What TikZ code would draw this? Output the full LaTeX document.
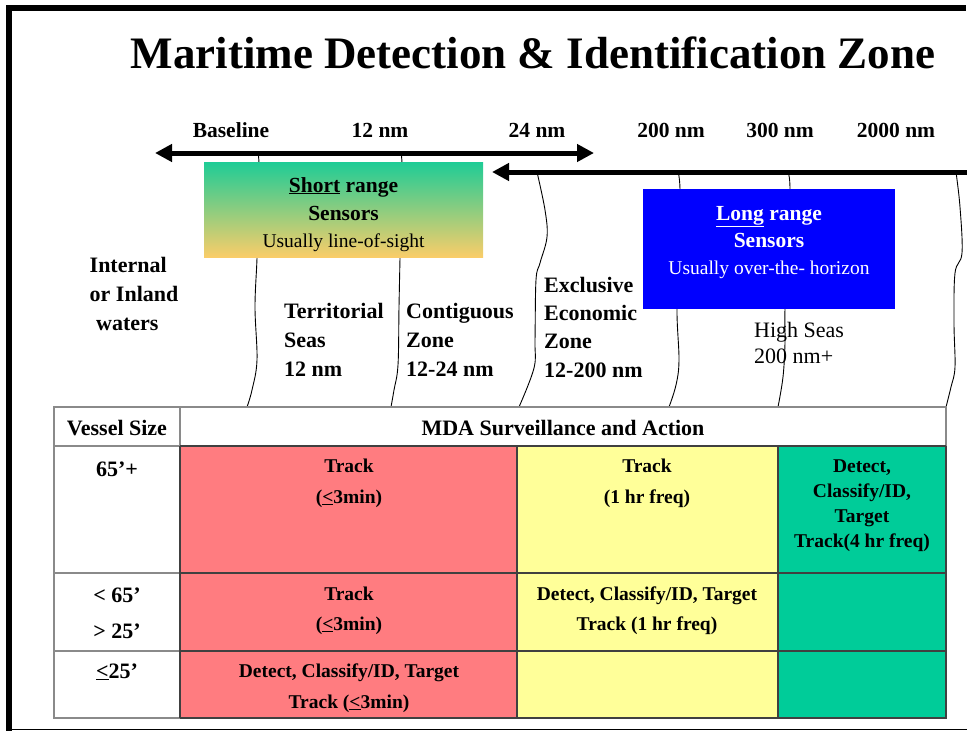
\documentclass[tikz,border=0pt]{standalone}
\usepackage{fontspec}
\setmainfont{Liberation Serif}
\usetikzlibrary{arrows.meta}

\definecolor{redcell}{HTML}{FF7C80}
\definecolor{yelcell}{HTML}{FFFF99}
\definecolor{grncell}{HTML}{00CC99}
\definecolor{shorttop}{HTML}{1ECC96}
\definecolor{shortbot}{HTML}{FACD69}
\definecolor{longbox}{HTML}{0000FF}
\definecolor{gridgrey}{HTML}{8A8A8A}
\definecolor{griddark}{HTML}{404040}

\begin{document}
\begin{tikzpicture}[x=1pt,y=-1pt,
  txt/.style={anchor=base,inner sep=0pt},
  titlefont/.style={txt,font=\fontsize{45}{50}\selectfont\bfseries},
  scalelbl/.style={txt,font=\fontsize{21.5}{25}\selectfont\bfseries},
  zonelbl/.style={txt,anchor=base west,font=\fontsize{22}{26}\selectfont\bfseries},
  zonereg/.style={txt,anchor=base west,font=\fontsize{22}{26}\selectfont},
  boxbold/.style={txt,font=\fontsize{21.5}{25}\selectfont\bfseries},
  boxreg/.style={txt,font=\fontsize{19.5}{23}\selectfont},
  headlbl/.style={txt,font=\fontsize{22}{26}\selectfont\bfseries},
  celltxt/.style={txt,font=\fontsize{19.5}{23}\selectfont\bfseries},
  rangearrow/.style={line width=5pt,-{Triangle[length=17pt,width=17pt]}},
  boundary/.style={line width=0.9pt,black},
]
\useasboundingbox (0,0) rectangle (967,731);

% page frame
\fill[black] (6,5) rectangle (966,11);
\fill[black] (6,5) rectangle (12,731);
\draw[line width=1.2pt] (12,729.5) -- (967,729.5);

% title
\node[titlefont] (title) at (533,68) {Maritime Detection \& Identification Zone};

% distance scale labels
\node[scalelbl] (sBase) at (231,137) {Baseline};
\node[scalelbl] (s12)   at (380,137) {12 nm};
\node[scalelbl] (s24)   at (537,137) {24 nm};
\node[scalelbl] (s200)  at (671,137) {200 nm};
\node[scalelbl] (s300)  at (780,137) {300 nm};
\node[scalelbl] (s2000) at (896,137) {2000 nm};

% zone boundaries (irregular lines)
\draw[boundary] plot[smooth,tension=0.6] coordinates
  {(258,153) (259,166) (258,210) (257,258) (255,307) (257,360) (252,390) (247,407)};
\draw[boundary] plot[smooth,tension=0.6] coordinates
  {(401,153) (402,166) (401,210) (400,258) (399,307) (398,365) (394,390) (391,407)};
\draw[boundary] plot[smooth,tension=0.6] coordinates
  {(537,172) (545,210) (547,237) (540,263) (536,280) (535,340) (534,368) (519,407)};
\draw[boundary] plot[smooth,tension=0.6] coordinates
  {(678,172) (680,189) (680,250) (677,309) (679,360) (676,385) (669,407)};
\draw[boundary] plot[smooth,tension=0.6] coordinates
  {(788,172) (790,189) (788,250) (785,309) (785,343) (783,377) (778,407)};
\draw[boundary] plot[smooth,tension=0.6] coordinates
  {(956,172) (960,207) (962,253) (955,273) (954,323) (955,367) (951,387) (946,407)};

% range arrows
\coordinate (shortL) at (155,153);
\coordinate (shortR) at (594,153);
\coordinate (longL) at (492,172);
\coordinate (longR) at (967,172);
\draw[line width=5pt,{Triangle[length=17pt,width=17pt]}-{Triangle[length=17pt,width=17pt]}] (shortL) -- (shortR);
\draw[rangearrow] (longR) -- (longL);

% short range sensors box
\shade[top color=shorttop,bottom color=shortbot] (204,162) rectangle (483,257);
\node[boxbold] (shortA) at (343.5,192) {\underline{Short} range};
\node[boxbold] (shortB) at (343.5,220) {Sensors};
\node[boxreg]  (shortC) at (343.5,247) {Usually line-of-sight};

% long range sensors box
\fill[longbox] (643,189) rectangle (895,309);
\node[boxbold,text=white] (longA) at (769,220) {\underline{Long} range};
\node[boxbold,text=white] (longB) at (769,247) {Sensors};
\node[boxreg,text=white]  (longC) at (769,274) {Usually over-the- horizon};

% zone names
\node[zonelbl] (inA) at (89.5,272) {Internal};
\node[zonelbl] (inB) at (89.5,301) {or Inland};
\node[zonelbl] (inC) at (96,330) {waters};

\node[zonelbl] (tsA) at (284,318) {Territorial};
\node[zonelbl] (tsB) at (284,347) {Seas};
\node[zonelbl] (tsC) at (284,376) {12 nm};

\node[zonelbl] (czA) at (406,318) {Contiguous};
\node[zonelbl] (czB) at (406,347) {Zone};
\node[zonelbl] (czC) at (406,376) {12-24 nm};

\node[zonelbl] (eeA) at (544,292) {Exclusive};
\node[zonelbl] (eeB) at (544,320) {Economic};
\node[zonelbl] (eeC) at (544,348) {Zone};
\node[zonelbl] (eeD) at (544,377) {12-200 nm};

\node[zonereg] (hsA) at (754,337) {High Seas};
\node[zonereg] (hsB) at (754,363) {200 nm+};

% surveillance table: cell fills
\fill[white]   (54,407) rectangle (946,718);
\fill[redcell] (180,446) rectangle (517,718);
\fill[yelcell] (517,446) rectangle (778,718);
\fill[grncell] (778,446) rectangle (946,718);

% table rules
\draw[gridgrey,line width=1.6pt] (54,407) rectangle (946,718);
\draw[gridgrey,line width=1.6pt] (54,446) -- (946,446);
\draw[gridgrey,line width=1.6pt] (54,573) -- (180,573);
\draw[gridgrey,line width=1.6pt] (54,651) -- (180,651);
\draw[gridgrey,line width=1.6pt] (180,407) -- (180,718);
\draw[griddark,line width=1.3pt] (180,446) -- (946,446);
\draw[griddark,line width=1.3pt] (180,573) -- (946,573);
\draw[griddark,line width=1.3pt] (180,651) -- (946,651);
\draw[griddark,line width=1.3pt] (517,446) -- (517,718);
\draw[griddark,line width=1.3pt] (778,446) -- (778,718);
\draw[griddark,line width=1.3pt] (180,718) -- (946,718) -- (946,446);
\draw[griddark,line width=1.3pt] (180,446) -- (180,718);

% table header
\node[headlbl] (hVessel) at (117,435) {Vessel Size};
\node[headlbl] (hMDA)    at (563,435) {MDA Surveillance and Action};

% row: 65'+
\node[headlbl] (v1) at (117,476) {65’+};
\node[celltxt] (r1a) at (349,472) {Track};
\node[celltxt] (r1b) at (349,503) {(\underline{<}3min)};
\node[celltxt] (y1a) at (647,472) {Track};
\node[celltxt] (y1b) at (647,503) {(1 hr freq)};
\node[celltxt] (g1a) at (862,472) {Detect,};
\node[celltxt] (g1b) at (862,497) {Classify/ID,};
\node[celltxt] (g1c) at (862,522) {Target};
\node[celltxt] (g1d) at (862,547) {Track(4 hr freq)};

% row: between 25' and 65'
\node[headlbl] (v2a) at (117,602) {< 65’};
\node[headlbl] (v2b) at (117,638) {> 25’};
\node[celltxt] (r2a) at (349,600) {Track};
\node[celltxt] (r2b) at (349,630) {(\underline{<}3min)};
\node[celltxt] (y2a) at (647,600) {Detect, Classify/ID, Target};
\node[celltxt] (y2b) at (647,630) {Track (1 hr freq)};

% row: 25' and under
\node[headlbl] (v3) at (117,678) {\underline{<}25’};
\node[celltxt] (r3a) at (349,677) {Detect, Classify/ID, Target};
\node[celltxt] (r3b) at (349,708) {Track (\underline{<}3min)};
\end{tikzpicture}
\end{document}
